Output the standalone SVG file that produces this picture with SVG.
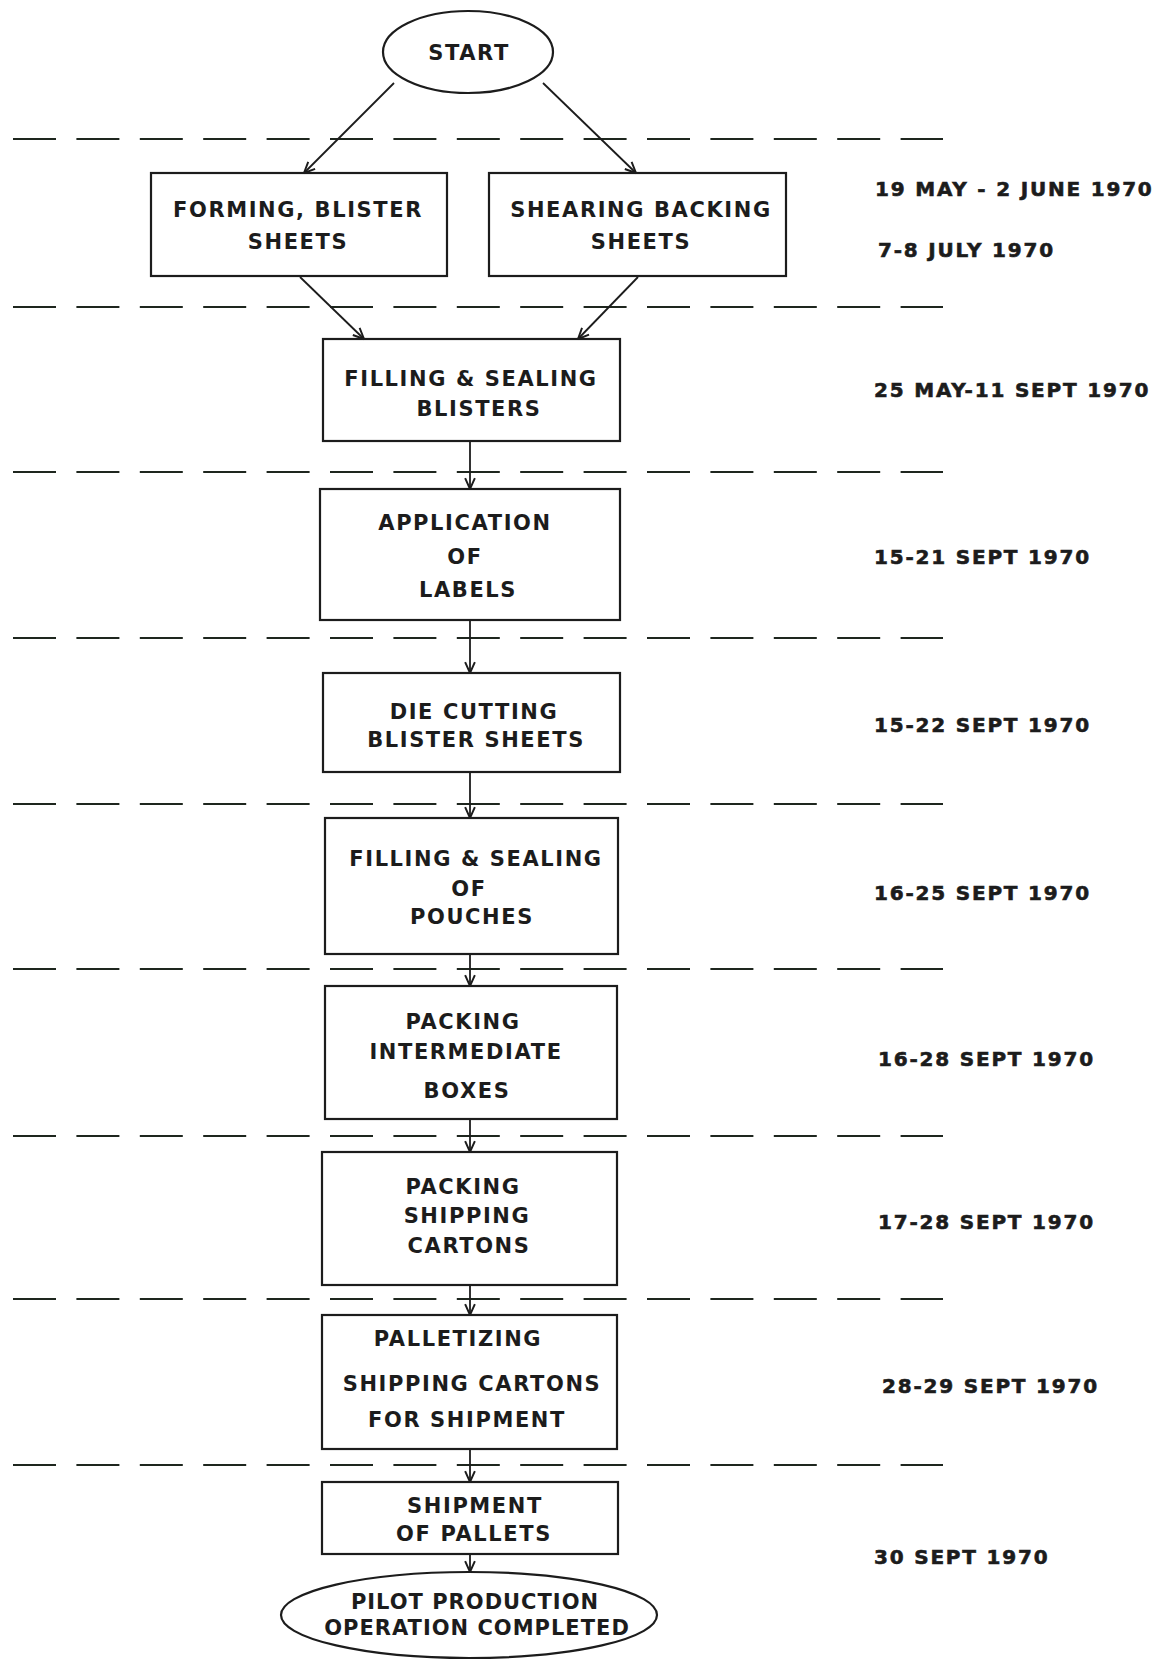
<svg xmlns="http://www.w3.org/2000/svg" width="1166" height="1660" viewBox="0 0 1166 1660">
<defs>
<style>
.box{fill:none;stroke:#1c1c1c;stroke-width:2.2}
.t{font-family:"DejaVu Sans","Liberation Sans",sans-serif;font-weight:bold;font-size:21px;fill:#1c1c1c;text-anchor:middle;dominant-baseline:central;letter-spacing:1.6px}
.tn{letter-spacing:1px}
.d{font-family:"DejaVu Sans","Liberation Sans",sans-serif;font-weight:bold;font-size:20px;fill:#1c1c1c;stroke:#1c1c1c;stroke-width:0.6;dominant-baseline:central;letter-spacing:1.8px}
.dash{stroke:#1e261e;stroke-width:2.2;stroke-dasharray:43 20.4;fill:none}
.c{stroke:#1c1c1c;stroke-width:1.8;fill:none;marker-end:url(#ah)}
</style>
<marker id="ah" viewBox="0 0 12 12" refX="11" refY="6" markerWidth="13" markerHeight="13" markerUnits="userSpaceOnUse" orient="auto">
<path d="M1,1.5 L11,6 L1,10.5" fill="none" stroke="#1c1c1c" stroke-width="1.8"/>
</marker>
</defs>
<rect width="1166" height="1660" fill="#ffffff"/>

<g id="separators">
<line class="dash" x1="13" y1="139" x2="943" y2="139"/>
<line class="dash" x1="13" y1="307" x2="943" y2="307"/>
<line class="dash" x1="13" y1="472" x2="943" y2="472"/>
<line class="dash" x1="13" y1="638" x2="943" y2="638"/>
<line class="dash" x1="13" y1="804" x2="943" y2="804"/>
<line class="dash" x1="13" y1="969" x2="943" y2="969"/>
<line class="dash" x1="13" y1="1136" x2="943" y2="1136"/>
<line class="dash" x1="13" y1="1299" x2="943" y2="1299"/>
<line class="dash" x1="13" y1="1465" x2="943" y2="1465"/>
</g>

<g id="connectors">
<line class="c" x1="394" y1="83" x2="304" y2="173"/>
<line class="c" x1="543" y1="83" x2="636" y2="173"/>
<line class="c" x1="300" y1="277" x2="364" y2="339"/>
<line class="c" x1="638" y1="277" x2="578" y2="339"/>
<line class="c" x1="470" y1="441" x2="470" y2="489"/>
<line class="c" x1="470" y1="620" x2="470" y2="673"/>
<line class="c" x1="470" y1="772" x2="470" y2="818"/>
<line class="c" x1="470" y1="954" x2="470" y2="986"/>
<line class="c" x1="470" y1="1119" x2="470" y2="1152"/>
<line class="c" x1="470" y1="1285" x2="470" y2="1315"/>
<line class="c" x1="470" y1="1449" x2="470" y2="1482"/>
<line class="c" x1="470" y1="1554" x2="470" y2="1572"/>
</g>

<g id="start">
<ellipse class="box" cx="468" cy="52" rx="85" ry="41"/>
<text class="t" x="469" y="53">START</text>
</g>

<g id="forming">
<rect class="box" x="151" y="173" width="296" height="103"/>
<text class="t" x="298" y="210">FORMING, BLISTER</text>
<text class="t" x="298" y="242">SHEETS</text>
</g>

<g id="shearing">
<rect class="box" x="489" y="173" width="297" height="103"/>
<text class="t" x="641" y="210">SHEARING BACKING</text>
<text class="t" x="641" y="242">SHEETS</text>
</g>

<g id="filling-blisters">
<rect class="box" x="323" y="339" width="297" height="102"/>
<text class="t" x="471" y="379">FILLING &amp; SEALING</text>
<text class="t" x="479" y="409">BLISTERS</text>
</g>

<g id="labels">
<rect class="box" x="320" y="489" width="300" height="131"/>
<text class="t" x="465" y="523">APPLICATION</text>
<text class="t" x="465" y="557">OF</text>
<text class="t" x="468" y="590">LABELS</text>
</g>

<g id="die-cutting">
<rect class="box" x="323" y="673" width="297" height="99"/>
<text class="t" x="474" y="712">DIE CUTTING</text>
<text class="t" x="476" y="740">BLISTER SHEETS</text>
</g>

<g id="pouches">
<rect class="box" x="325" y="818" width="293" height="136"/>
<text class="t" x="476" y="859">FILLING &amp; SEALING</text>
<text class="t" x="469" y="889">OF</text>
<text class="t" x="472" y="917">POUCHES</text>
</g>

<g id="intermediate">
<rect class="box" x="325" y="986" width="292" height="133"/>
<text class="t" x="463" y="1022">PACKING</text>
<text class="t" x="466" y="1052">INTERMEDIATE</text>
<text class="t" x="467" y="1091">BOXES</text>
</g>

<g id="shipping-cartons">
<rect class="box" x="322" y="1152" width="295" height="133"/>
<text class="t" x="463" y="1187">PACKING</text>
<text class="t" x="467" y="1216">SHIPPING</text>
<text class="t" x="469" y="1246">CARTONS</text>
</g>

<g id="palletizing">
<rect class="box" x="322" y="1315" width="295" height="134"/>
<text class="t" x="458" y="1339">PALLETIZING</text>
<text class="t" x="472" y="1384">SHIPPING CARTONS</text>
<text class="t" x="467" y="1420">FOR SHIPMENT</text>
</g>

<g id="shipment">
<rect class="box" x="322" y="1482" width="296" height="72"/>
<text class="t" x="475" y="1506">SHIPMENT</text>
<text class="t" x="474" y="1534">OF PALLETS</text>
</g>

<g id="completed">
<ellipse class="box" cx="469" cy="1615" rx="188" ry="43"/>
<text class="t tn" x="475" y="1602">PILOT PRODUCTION</text>
<text class="t tn" x="477" y="1628">OPERATION COMPLETED</text>
</g>

<g id="dates">
<text class="d" x="875" y="189">19 MAY - 2 JUNE 1970</text>
<text class="d" x="878" y="250">7-8 JULY 1970</text>
<text class="d" x="874" y="390">25 MAY-11 SEPT 1970</text>
<text class="d" x="874" y="557">15-21 SEPT 1970</text>
<text class="d" x="874" y="725">15-22 SEPT 1970</text>
<text class="d" x="874" y="893">16-25 SEPT 1970</text>
<text class="d" x="878" y="1059">16-28 SEPT 1970</text>
<text class="d" x="878" y="1222">17-28 SEPT 1970</text>
<text class="d" x="882" y="1386">28-29 SEPT 1970</text>
<text class="d" x="874" y="1557">30 SEPT 1970</text>
</g>
</svg>
